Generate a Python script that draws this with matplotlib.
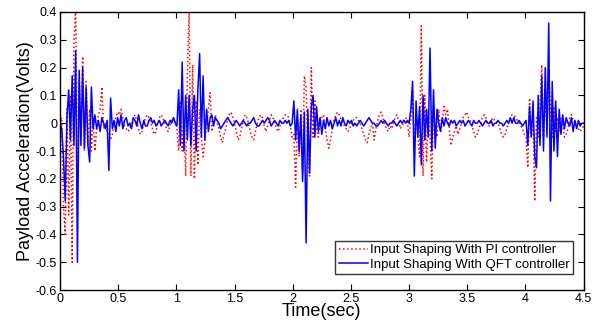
import numpy as np
import matplotlib
matplotlib.use('Agg')
from matplotlib import pyplot as plt

plt.rcParams['font.family'] = ['Liberation Sans', 'DejaVu Sans']

# payload acceleration, one sample every 0.015 s (rows = 0.15 s)
pi_volts = [
    0.0, 0.02, -0.3, -0.4, 0.05, -0.33, 0.1, -0.5, 0.29, 0.42,
    -0.2, 0.15, -0.05, 0.24, -0.1, 0.15, -0.08, 0.05, -0.1, 0.02,
    -0.1, -0.02, 0.03, 0.05, 0.13, -0.02, 0.0, -0.03, -0.05, -0.06,
    -0.04, -0.01, 0.02, 0.04, 0.03, 0.05, 0.02, -0.01, -0.02, -0.03,
    -0.02, 0.0, 0.02, 0.03, 0.01, -0.02, -0.04, -0.03, 0.0, 0.02,
    0.03, 0.02, 0.0, -0.02, -0.04, -0.03, 0.0, 0.02, 0.03, 0.02,
    0.0, -0.02, -0.03, -0.01, 0.01, 0.02, 0.01, -0.02, -0.1, 0.08,
    -0.1, 0.02, -0.19, 0.18, 0.4, -0.19, 0.21, -0.2, 0.08, -0.15,
    0.05, -0.05, -0.12, -0.07, 0.0, 0.05, 0.11, -0.03, 0.01, 0.03,
    0.0, -0.02, -0.05, -0.07, -0.04, -0.02, 0.01, 0.03, 0.04, 0.02,
    0.0, -0.03, -0.06, -0.05, -0.02, 0.01, 0.03, 0.02, 0.0, -0.03,
    -0.05, -0.06, -0.03, 0.0, 0.02, 0.03, 0.02, -0.01, -0.03, -0.01,
    0.01, 0.03, 0.02, 0.0, -0.02, -0.03, -0.01, 0.01, 0.02, 0.03,
    0.03, 0.02, -0.01, -0.05, -0.04, -0.23, 0.02, -0.12, 0.05, -0.18,
    0.17, 0.13, -0.1, -0.19, 0.2, -0.05, 0.08, -0.02, -0.05, 0.0,
    0.02, 0.03, -0.02, -0.06, -0.09, -0.06, -0.02, 0.01, 0.03, 0.04,
    0.03, 0.01, 0.0, -0.01, -0.02, -0.03, -0.02, 0.0, 0.01, 0.02,
    0.02, 0.01, 0.0, -0.02, -0.04, -0.06, -0.07, -0.04, -0.02, 0.0,
    -0.06, -0.02, 0.01, 0.03, 0.04, 0.02, 0.0, -0.02, -0.03, -0.01,
    -0.02, 0.0, 0.02, 0.03, 0.01, -0.02, -0.01, 0.01, 0.02, 0.01,
    -0.05, 0.02, 0.12, -0.1, 0.03, -0.05, -0.12, 0.35, -0.19, 0.1,
    -0.14, 0.05, -0.05, -0.2, 0.06, -0.02, -0.05, 0.05, -0.03, 0.0,
    0.06, 0.03, 0.05, -0.02, -0.08, -0.05, -0.03, -0.01, -0.04, -0.02,
    0.0, 0.02, 0.03, 0.04, 0.02, 0.01, -0.01, -0.03, -0.05, -0.04,
    -0.02, 0.0, 0.02, 0.03, 0.02, 0.0, -0.01, 0.01, 0.02, 0.01,
    0.01, 0.0, -0.02, -0.04, -0.05, -0.04, -0.02, 0.0, 0.02, 0.03,
    0.03, 0.02, 0.01, 0.0, -0.01, -0.02, -0.04, -0.05, -0.16, 0.09,
    -0.05, 0.04, -0.28, 0.02, -0.05, 0.06, 0.21, -0.05, 0.1, -0.02,
    0.19, 0.05, -0.05, 0.06, -0.03, 0.02, -0.03, 0.02, 0.0, -0.05,
    -0.04, -0.02, 0.02, 0.03, 0.01, 0.0, -0.01, -0.02, -0.03, -0.02,
    -0.01,
]

qft_volts = [
    0.0, -0.02, -0.12, -0.28, 0.02, 0.12, -0.06, 0.17, -0.08, 0.26,
    -0.5, 0.19, -0.08, 0.2, -0.09, 0.13, -0.08, -0.14, 0.13, -0.02,
    0.03, -0.02, 0.01, -0.03, 0.02, 0.0, -0.02, 0.01, -0.17, 0.09,
    -0.02, 0.01, -0.03, 0.02, -0.01, 0.03, -0.02, 0.01, 0.02, -0.01,
    0.0, -0.02, 0.02, 0.01, -0.01, 0.03, 0.0, -0.02, 0.01, -0.01,
    -0.01, 0.01, 0.02, 0.0, 0.01, -0.01, 0.0, 0.01, -0.01, 0.0,
    0.01, 0.0, -0.01, 0.01, 0.0, 0.02, 0.0, -0.01, 0.12, -0.08,
    0.22, -0.1, 0.1, -0.06, 0.1, -0.08, 0.05, 0.1, -0.1, 0.12,
    0.25, -0.05, 0.17, -0.06, 0.05, -0.03, 0.02, 0.03, -0.01, 0.02,
    0.01, 0.0, -0.02, -0.01, 0.0, 0.01, 0.02, 0.01, 0.0, -0.01,
    0.0, 0.01, 0.0, -0.01, 0.0, 0.01, 0.0, -0.01, 0.0, 0.0,
    0.01, 0.02, 0.0, -0.01, -0.01, 0.0, 0.01, 0.0, 0.01, 0.02,
    0.01, -0.01, 0.0, 0.01, 0.0, -0.01, 0.01, 0.0, 0.0, 0.01,
    0.0, 0.01, -0.01, 0.0, 0.08, -0.06, 0.05, -0.1, 0.03, -0.21,
    0.04, -0.43, 0.05, -0.18, 0.06, 0.1, -0.05, 0.06, -0.03, 0.02,
    -0.04, 0.01, -0.02, 0.02, -0.01, 0.01, -0.02, 0.0, 0.02, -0.01,
    0.01, -0.01, 0.02, 0.0, -0.01, 0.01, 0.0, 0.01, -0.01, 0.0,
    -0.01, 0.0, 0.01, 0.0, -0.01, 0.0, 0.01, 0.02, 0.01, 0.0,
    0.0, -0.01, -0.01, 0.0, 0.01, 0.0, 0.01, 0.0, -0.01, 0.0,
    0.0, 0.01, 0.0, -0.01, 0.0, 0.01, 0.0, 0.01, 0.0, 0.01,
    0.0, 0.05, 0.15, -0.19, 0.08, -0.05, 0.06, -0.15, 0.1, -0.06,
    0.05, -0.05, 0.27, -0.1, 0.12, -0.09, 0.05, 0.0, -0.03, 0.02,
    -0.01, 0.02, 0.0, -0.01, 0.01, 0.0, 0.01, -0.01, 0.0, 0.01,
    0.0, 0.01, -0.01, 0.0, 0.01, 0.0, -0.01, 0.01, 0.0, 0.0,
    0.01, 0.0, -0.01, 0.0, 0.01, 0.0, 0.0, 0.01, -0.01, 0.0,
    0.0, 0.01, 0.0, 0.0, -0.01, 0.0, 0.01, 0.0, 0.02, 0.0,
    0.02, 0.0, 0.0, 0.01, 0.0, -0.01, 0.0, 0.01, -0.08, 0.06,
    -0.05, 0.08, -0.12, -0.16, 0.1, -0.08, 0.17, -0.1, 0.2, -0.05,
    0.36, -0.28, 0.15, -0.1, 0.08, -0.12, 0.05, -0.04, 0.03, -0.02,
    0.02, 0.0, -0.01, 0.02, -0.03, 0.01, -0.02, 0.01, -0.01, 0.0,
    0.0,
]

t_pi = np.linspace(0, 4.5, len(pi_volts))
t_qft = np.linspace(0, 4.5, len(qft_volts))

x_ticks = [0, 0.5, 1, 1.5, 2, 2.5, 3, 3.5, 4, 4.5]
x_labels = ['0', '0.5', '1', '1.5', '2', '2.5', '3', '3.5', '4', '4.5']
y_ticks = [-0.6, -0.5, -0.4, -0.3, -0.2, -0.1, 0, 0.1, 0.2, 0.3, 0.4]
y_labels = ['-0.6', '-0.5', '-0.4', '-0.3', '-0.2', '-0.1', '0', '0.1', '0.2', '0.3', '0.4']

fig = plt.figure(figsize=(6.04, 3.23), dpi=100)
ax = fig.add_axes([0.0993, 0.102, 0.867, 0.861])

ax.plot(t_pi, pi_volts, color='red', linestyle=':', linewidth=1.1,
        label='Input Shaping With PI controller')
ax.plot(t_qft, qft_volts, color='blue', linestyle='-', linewidth=1.1,
        label='Input Shaping With QFT controller')

ax.set_xlim(0, 4.5)
ax.set_ylim(-0.6, 0.4)
ax.set_xticks(x_ticks)
ax.set_xticklabels(x_labels)
ax.set_yticks(y_ticks)
ax.set_yticklabels(y_labels)
ax.tick_params(direction='in', top=True, right=True, labelsize=9, length=4, pad=2)
for s in ax.spines.values():
    s.set_linewidth(1.0)

ax.set_xlabel('Time(sec)', fontsize=13, labelpad=-1)
ax.set_ylabel('Payload Acceleration(Volts)', fontsize=13, labelpad=1)

leg = ax.legend(loc='lower right', bbox_to_anchor=(0.979, 0.058), fontsize=9.5,
                frameon=True, fancybox=False, edgecolor='black',
                handlelength=2.2, handletextpad=0.15, borderpad=0.25,
                labelspacing=0.15, borderaxespad=0)
leg.get_frame().set_linewidth(1.0)

plt.savefig('out.png', dpi=100)
